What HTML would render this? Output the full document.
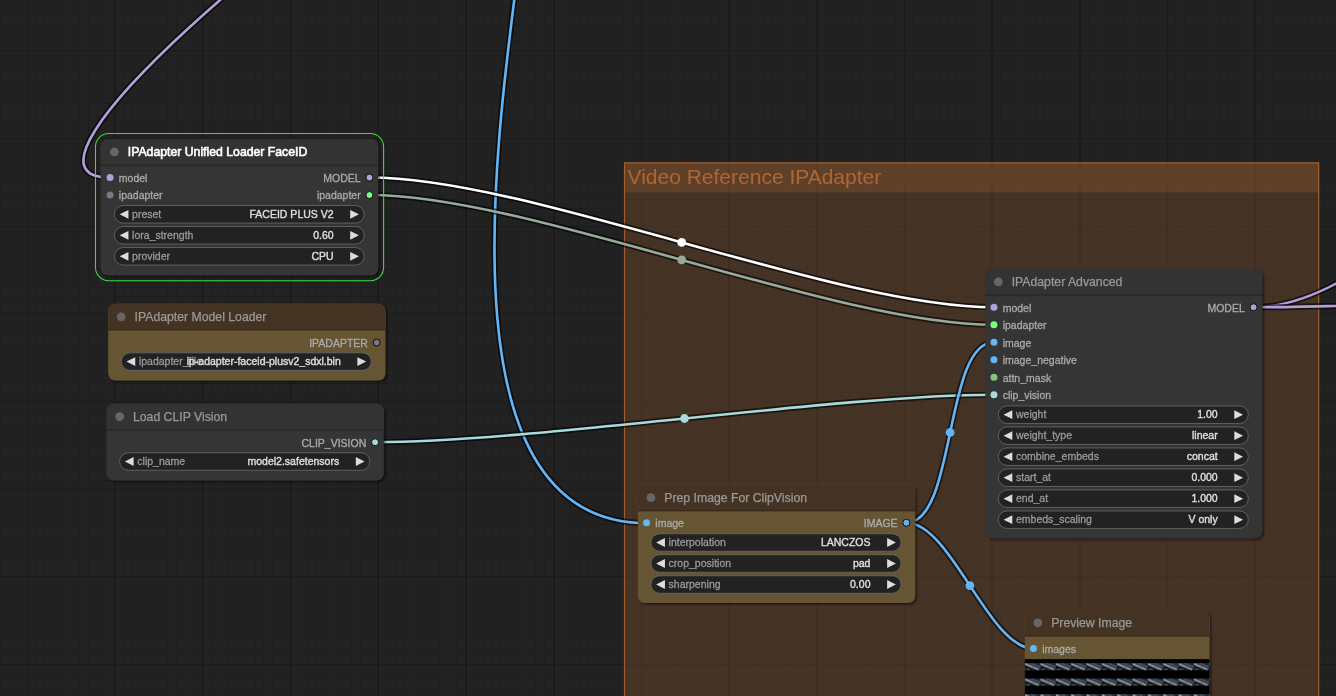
<!DOCTYPE html>
<html><head><meta charset="utf-8"><title>ComfyUI</title>
<style>html,body{margin:0;padding:0;background:#222;overflow:hidden}svg{display:block}text{font-family:"Liberation Sans",sans-serif}.sl{fill:#aaa;stroke:#aaa;stroke-width:.3px}.wl{fill:#999;stroke:#999;stroke-width:.3px}.wv{fill:#ddd;stroke:#ddd;stroke-width:.4px}</style>
</head><body>
<svg width="1336" height="696" viewBox="0 0 1336 696">
<defs>
<filter id="sh" x="-10%" y="-10%" width="120%" height="130%"><feDropShadow dx="1.75" dy="1.75" stdDeviation="1.3" flood-color="#000" flood-opacity="0.5"/></filter>
<pattern id="tile" x="1025.1" y="662.9" width="15.35" height="15.55" patternUnits="userSpaceOnUse">
<rect width="15.35" height="7.1" fill="#2b3540"/>
<path d="M0 2.6V7.1H9.5Z" fill="#0e1318"/>
<path d="M15.35 0V2.6L8 0Z" fill="#1d252d"/>
<path d="M0 0.9L13.6 6.6" stroke="#566571" stroke-width="2.4" fill="none"/>
<path d="M0 0.9L13.6 6.6" stroke="#b9c4cd" stroke-width="0.8" fill="none"/>
<path d="M6 0.5L15.35 4" stroke="#61717e" stroke-width="0.7" fill="none"/>
<path d="M0.6 6.4H4.6" stroke="#7d7748" stroke-width="0.8"/>
<circle cx="8" cy="3.8" r="0.65" fill="#a8264a"/>
</pattern>
</defs>
<g style="opacity:0.999">
<rect width="1336" height="696" fill="#222"/>
<path d="M0.5 0V696M9.5 0V696M18.5 0V696M27.5 0V696M35.5 0V696M44.5 0V696M53.5 0V696M62.5 0V696M79.5 0V696M88.5 0V696M97.5 0V696M114.5 0V696M123.5 0V696M132.5 0V696M141.5 0V696M149.5 0V696M158.5 0V696M167.5 0V696M176.5 0V696M193.5 0V696M202.5 0V696M211.5 0V696M228.5 0V696M237.5 0V696M246.5 0V696M255.5 0V696M263.5 0V696M272.5 0V696M281.5 0V696M290.5 0V696M307.5 0V696M316.5 0V696M325.5 0V696M342.5 0V696M351.5 0V696M360.5 0V696M369.5 0V696M377.5 0V696M386.5 0V696M395.5 0V696M404.5 0V696M421.5 0V696M430.5 0V696M439.5 0V696M456.5 0V696M465.5 0V696M474.5 0V696M483.5 0V696M491.5 0V696M500.5 0V696M509.5 0V696M518.5 0V696M535.5 0V696M544.5 0V696M553.5 0V696M570.5 0V696M579.5 0V696M588.5 0V696M597.5 0V696M605.5 0V696M614.5 0V696M623.5 0V696M632.5 0V696M649.5 0V696M658.5 0V696M667.5 0V696M684.5 0V696M693.5 0V696M702.5 0V696M711.5 0V696M719.5 0V696M728.5 0V696M737.5 0V696M746.5 0V696M763.5 0V696M772.5 0V696M781.5 0V696M798.5 0V696M807.5 0V696M816.5 0V696M825.5 0V696M833.5 0V696M842.5 0V696M851.5 0V696M860.5 0V696M877.5 0V696M886.5 0V696M895.5 0V696M912.5 0V696M921.5 0V696M930.5 0V696M939.5 0V696M947.5 0V696M956.5 0V696M965.5 0V696M974.5 0V696M991.5 0V696M1000.5 0V696M1009.5 0V696M1026.5 0V696M1035.5 0V696M1044.5 0V696M1053.5 0V696M1061.5 0V696M1070.5 0V696M1079.5 0V696M1088.5 0V696M1105.5 0V696M1114.5 0V696M1123.5 0V696M1140.5 0V696M1149.5 0V696M1158.5 0V696M1167.5 0V696M1175.5 0V696M1184.5 0V696M1193.5 0V696M1202.5 0V696M1219.5 0V696M1228.5 0V696M1237.5 0V696M1254.5 0V696M1263.5 0V696M1272.5 0V696M1281.5 0V696M1289.5 0V696M1298.5 0V696M1307.5 0V696M1316.5 0V696M1324.5 0V696M1333.5 0V696M0 6.5H1336M0 15.5H1336M0 24.5H1336M0 33.5H1336M0 41.5H1336M0 50.5H1336M0 59.5H1336M0 68.5H1336M0 85.5H1336M0 94.5H1336M0 103.5H1336M0 120.5H1336M0 129.5H1336M0 138.5H1336M0 147.5H1336M0 155.5H1336M0 164.5H1336M0 173.5H1336M0 182.5H1336M0 199.5H1336M0 208.5H1336M0 217.5H1336M0 234.5H1336M0 243.5H1336M0 252.5H1336M0 261.5H1336M0 269.5H1336M0 278.5H1336M0 287.5H1336M0 296.5H1336M0 313.5H1336M0 322.5H1336M0 331.5H1336M0 348.5H1336M0 357.5H1336M0 366.5H1336M0 375.5H1336M0 383.5H1336M0 392.5H1336M0 401.5H1336M0 410.5H1336M0 427.5H1336M0 436.5H1336M0 445.5H1336M0 462.5H1336M0 471.5H1336M0 480.5H1336M0 489.5H1336M0 497.5H1336M0 506.5H1336M0 515.5H1336M0 524.5H1336M0 541.5H1336M0 550.5H1336M0 559.5H1336M0 576.5H1336M0 585.5H1336M0 594.5H1336M0 603.5H1336M0 611.5H1336M0 620.5H1336M0 629.5H1336M0 638.5H1336M0 655.5H1336M0 664.5H1336M0 673.5H1336M0 690.5H1336" stroke="#1e1e1e" stroke-width="1" fill="none"/>
<path d="M27.5 0V696M114.5 0V696M115.5 0V696M202.5 0V696M203.5 0V696M290.5 0V696M291.5 0V696M377.5 0V696M378.5 0V696M465.5 0V696M466.5 0V696M553.5 0V696M554.5 0V696M641.5 0V696M728.5 0V696M729.5 0V696M816.5 0V696M817.5 0V696M904.5 0V696M991.5 0V696M992.5 0V696M1079.5 0V696M1080.5 0V696M1167.5 0V696M1254.5 0V696M1255.5 0V696M0 50.5H1336M0 138.5H1336M0 226.5H1336M0 313.5H1336M0 401.5H1336M0 489.5H1336M0 576.5H1336M0 664.5H1336" stroke="#1b1b1b" stroke-width="1" fill="none"/>
<!-- group -->
<rect x="623.9" y="162.3" width="695.1" height="30.2" fill="#b06634" fill-opacity="0.25"/>
<rect x="623.9" y="162.3" width="695.1" height="560" fill="#b06634" fill-opacity="0.25"/>
<rect x="624.5" y="162.95" width="694.2" height="560" fill="none" stroke="#b06634" stroke-opacity="0.85" stroke-width="1.2"/>
<text x="627.5" y="183.65" font-size="21" fill="#b06634">Video Reference IPAdapter</text>
<!-- links -->
<path d="M393.82 -123.98C357.14 -123.98 -18.29 177.55 110 177.55" fill="none" stroke="#000" stroke-opacity="0.6" stroke-width="6.12"/><path d="M393.82 -123.98C357.14 -123.98 -18.29 177.55 110 177.55" fill="none" stroke="#B39DDB" stroke-width="2.62"/>
<path d="M524.81 -169.58C566.98 -169.58 366.51 523.25 647.15 523.25" fill="none" stroke="#000" stroke-opacity="0.6" stroke-width="6.12"/><path d="M524.81 -169.58C566.98 -169.58 366.51 523.25 647.15 523.25" fill="none" stroke="#64B5F6" stroke-width="2.62"/>
<path d="M369.45 195.05C528.91 195.05 834.49 324.75 993.95 324.75" fill="none" stroke="#000" stroke-opacity="0.6" stroke-width="6.12"/><path d="M369.45 195.05C528.91 195.05 834.49 324.75 993.95 324.75" fill="none" stroke="#9A9" stroke-width="2.62"/><circle cx="681.7" cy="259.9" r="4.38" fill="#9A9"/>
<path d="M369.45 177.55C528.91 177.55 834.49 307.25 993.95 307.25" fill="none" stroke="#000" stroke-opacity="0.6" stroke-width="6.12"/><path d="M369.45 177.55C528.91 177.55 834.49 307.25 993.95 307.25" fill="none" stroke="#fff" stroke-width="2.62"/><circle cx="681.7" cy="242.4" r="4.38" fill="#fff"/>
<path d="M375.05 442.25C530.23 442.25 838.77 394.75 993.95 394.75" fill="none" stroke="#000" stroke-opacity="0.6" stroke-width="6.12"/><path d="M375.05 442.25C530.23 442.25 838.77 394.75 993.95 394.75" fill="none" stroke="#A8DADC" stroke-width="2.62"/><circle cx="684.5" cy="418.5" r="4.38" fill="#A8DADC"/>
<path d="M906.35 522.75C956.51 522.75 943.79 342.25 993.95 342.25" fill="none" stroke="#000" stroke-opacity="0.6" stroke-width="6.12"/><path d="M906.35 522.75C956.51 522.75 943.79 342.25 993.95 342.25" fill="none" stroke="#64B5F6" stroke-width="2.62"/><circle cx="950.15" cy="432.5" r="4.38" fill="#64B5F6"/>
<path d="M906.35 522.75C951.04 522.75 988.76 648.45 1033.45 648.45" fill="none" stroke="#000" stroke-opacity="0.6" stroke-width="6.12"/><path d="M906.35 522.75C951.04 522.75 988.76 648.45 1033.45 648.45" fill="none" stroke="#64B5F6" stroke-width="2.62"/><circle cx="969.9" cy="585.6" r="4.38" fill="#64B5F6"/>
<path d="M1253.55 307.25C1456.48 307.25 1699.36 -180.65 1902.29 -180.65" fill="none" stroke="#000" stroke-opacity="0.6" stroke-width="6.12"/><path d="M1253.55 307.25C1456.48 307.25 1699.36 -180.65 1902.29 -180.65" fill="none" stroke="#B39DDB" stroke-width="2.62"/>
<path d="M1253.55 307.25C1584.13 307.25 2242.96 228.8 2573.54 228.8" fill="none" stroke="#000" stroke-opacity="0.6" stroke-width="6.12"/><path d="M1253.55 307.25C1584.13 307.25 2242.96 228.8 2573.54 228.8" fill="none" stroke="#B39DDB" stroke-width="2.62"/>
<!-- nodes -->
<g filter="url(#sh)"><rect x="108.2" y="303.85" width="277.2" height="76.75" rx="7" fill="#653"/></g>
<path d="M108.2 330.1V310.85a7 7 0 0 1 7 -7H378.4a7 7 0 0 1 7 7V330.1Z" fill="#432"/>
<rect x="108.2" y="329.23" width="277.2" height="1.75" fill="#000" fill-opacity="0.2"/>
<circle cx="121.23" cy="316.78" r="4.38" fill="#666"/>
<text x="134.55" y="321.05" font-size="12.25" fill="#999" stroke="#999" stroke-width="0.25">IPAdapter Model Loader</text>
<circle cx="376.65" cy="342.55" r="3.5" fill="#778" stroke="#000" stroke-width="0.88"/>
<text x="367.9" y="346.93" font-size="10.5" class="sl" text-anchor="end">IPADAPTER</text>
<rect x="121.23" y="352.85" width="250.17" height="17.5" rx="8.75" fill="#222" stroke="#666" stroke-width="0.88"/>
<path d="M135.23 357.23L126.48 361.6L135.23 365.98Z" fill="#ddd"/>
<path d="M357.4 357.23L366.15 361.6L357.4 365.98Z" fill="#ddd"/>
<text x="138.93" y="365.1" font-size="10.5" class="wl">ipadapter_file</text>
<text x="340.77" y="365.1" font-size="10.5" class="wv" text-anchor="end">ip-adapter-faceid-plusv2_sdxl.bin</text>

<g filter="url(#sh)"><rect x="106.6" y="403.75" width="277.2" height="76.65" rx="7" fill="#353535"/></g>
<path d="M106.6 430V410.75a7 7 0 0 1 7 -7H376.8a7 7 0 0 1 7 7V430Z" fill="#333"/>
<rect x="106.6" y="429.12" width="277.2" height="1.75" fill="#000" fill-opacity="0.2"/>
<circle cx="119.62" cy="416.68" r="4.38" fill="#666"/>
<text x="132.95" y="420.95" font-size="12.25" fill="#999" stroke="#999" stroke-width="0.25">Load CLIP Vision</text>
<circle cx="375.05" cy="442.25" r="3.5" fill="#A8DADC" stroke="#000" stroke-width="0.88"/>
<text x="366.3" y="446.62" font-size="10.5" class="sl" text-anchor="end">CLIP_VISION</text>
<rect x="119.62" y="452.75" width="250.17" height="17.5" rx="8.75" fill="#222" stroke="#666" stroke-width="0.88"/>
<path d="M133.62 457.12L124.88 461.5L133.62 465.88Z" fill="#ddd"/>
<path d="M355.8 457.12L364.55 461.5L355.8 465.88Z" fill="#ddd"/>
<text x="137.32" y="465" font-size="10.5" class="wl">clip_name</text>
<text x="339.17" y="465" font-size="10.5" class="wv" text-anchor="end">model2.safetensors</text>

<g filter="url(#sh)"><rect x="985.3" y="268.95" width="277" height="269.35" rx="7" fill="#353535"/></g>
<path d="M985.3 295.2V275.95a7 7 0 0 1 7 -7H1255.3a7 7 0 0 1 7 7V295.2Z" fill="#333"/>
<rect x="985.3" y="294.32" width="277" height="1.75" fill="#000" fill-opacity="0.2"/>
<circle cx="998.32" cy="281.88" r="4.38" fill="#666"/>
<text x="1011.65" y="286.15" font-size="12.25" fill="#999" stroke="#999" stroke-width="0.25">IPAdapter Advanced</text>
<circle cx="993.95" cy="307.25" r="3.5" fill="#B39DDB"/>
<text x="1002.7" y="311.62" font-size="10.5" class="sl">model</text>
<circle cx="993.95" cy="324.75" r="3.5" fill="#7F7"/>
<text x="1002.7" y="329.12" font-size="10.5" class="sl">ipadapter</text>
<circle cx="993.95" cy="342.25" r="3.5" fill="#64B5F6"/>
<text x="1002.7" y="346.62" font-size="10.5" class="sl">image</text>
<circle cx="993.95" cy="359.75" r="3.5" fill="#64B5F6"/>
<text x="1002.7" y="364.12" font-size="10.5" class="sl">image_negative</text>
<circle cx="993.95" cy="377.25" r="3.5" fill="#81C784"/>
<text x="1002.7" y="381.62" font-size="10.5" class="sl">attn_mask</text>
<circle cx="993.95" cy="394.75" r="3.5" fill="#A8DADC"/>
<text x="1002.7" y="399.12" font-size="10.5" class="sl">clip_vision</text>
<circle cx="1253.55" cy="307.25" r="3.5" fill="#B39DDB" stroke="#000" stroke-width="0.88"/>
<text x="1244.8" y="311.62" font-size="10.5" class="sl" text-anchor="end">MODEL</text>
<rect x="998.32" y="405.95" width="249.98" height="17.5" rx="8.75" fill="#222" stroke="#666" stroke-width="0.88"/>
<path d="M1012.32 410.32L1003.57 414.7L1012.32 419.07Z" fill="#ddd"/>
<path d="M1234.3 410.32L1243.05 414.7L1234.3 419.07Z" fill="#ddd"/>
<text x="1016.02" y="418.2" font-size="10.5" class="wl">weight</text>
<text x="1217.67" y="418.2" font-size="10.5" class="wv" text-anchor="end">1.00</text>
<rect x="998.32" y="426.95" width="249.98" height="17.5" rx="8.75" fill="#222" stroke="#666" stroke-width="0.88"/>
<path d="M1012.32 431.32L1003.57 435.7L1012.32 440.07Z" fill="#ddd"/>
<path d="M1234.3 431.32L1243.05 435.7L1234.3 440.07Z" fill="#ddd"/>
<text x="1016.02" y="439.2" font-size="10.5" class="wl">weight_type</text>
<text x="1217.67" y="439.2" font-size="10.5" class="wv" text-anchor="end">linear</text>
<rect x="998.32" y="447.95" width="249.98" height="17.5" rx="8.75" fill="#222" stroke="#666" stroke-width="0.88"/>
<path d="M1012.32 452.32L1003.57 456.7L1012.32 461.07Z" fill="#ddd"/>
<path d="M1234.3 452.32L1243.05 456.7L1234.3 461.07Z" fill="#ddd"/>
<text x="1016.02" y="460.2" font-size="10.5" class="wl">combine_embeds</text>
<text x="1217.67" y="460.2" font-size="10.5" class="wv" text-anchor="end">concat</text>
<rect x="998.32" y="468.95" width="249.98" height="17.5" rx="8.75" fill="#222" stroke="#666" stroke-width="0.88"/>
<path d="M1012.32 473.32L1003.57 477.7L1012.32 482.07Z" fill="#ddd"/>
<path d="M1234.3 473.32L1243.05 477.7L1234.3 482.07Z" fill="#ddd"/>
<text x="1016.02" y="481.2" font-size="10.5" class="wl">start_at</text>
<text x="1217.67" y="481.2" font-size="10.5" class="wv" text-anchor="end">0.000</text>
<rect x="998.32" y="489.95" width="249.98" height="17.5" rx="8.75" fill="#222" stroke="#666" stroke-width="0.88"/>
<path d="M1012.32 494.32L1003.57 498.7L1012.32 503.07Z" fill="#ddd"/>
<path d="M1234.3 494.32L1243.05 498.7L1234.3 503.07Z" fill="#ddd"/>
<text x="1016.02" y="502.2" font-size="10.5" class="wl">end_at</text>
<text x="1217.67" y="502.2" font-size="10.5" class="wv" text-anchor="end">1.000</text>
<rect x="998.32" y="510.95" width="249.98" height="17.5" rx="8.75" fill="#222" stroke="#666" stroke-width="0.88"/>
<path d="M1012.32 515.33L1003.57 519.7L1012.32 524.08Z" fill="#ddd"/>
<path d="M1234.3 515.33L1243.05 519.7L1234.3 524.08Z" fill="#ddd"/>
<text x="1016.02" y="523.2" font-size="10.5" class="wl">embeds_scaling</text>
<text x="1217.67" y="523.2" font-size="10.5" class="wv" text-anchor="end">V only</text>

<g filter="url(#sh)"><rect x="637.9" y="484.75" width="277.2" height="118.35" rx="7" fill="#653"/></g>
<path d="M637.9 511V491.75a7 7 0 0 1 7 -7H908.1a7 7 0 0 1 7 7V511Z" fill="#432"/>
<rect x="637.9" y="510.12" width="277.2" height="1.75" fill="#000" fill-opacity="0.2"/>
<circle cx="650.92" cy="497.68" r="4.38" fill="#666"/>
<text x="664.25" y="501.95" font-size="12.25" fill="#999" stroke="#999" stroke-width="0.25">Prep Image For ClipVision</text>
<circle cx="646.55" cy="522.75" r="3.5" fill="#64B5F6"/>
<text x="655.3" y="527.12" font-size="10.5" class="sl">image</text>
<circle cx="906.35" cy="522.75" r="3.5" fill="#64B5F6" stroke="#000" stroke-width="0.88"/>
<text x="897.6" y="527.12" font-size="10.5" class="sl" text-anchor="end">IMAGE</text>
<rect x="650.92" y="533.75" width="250.17" height="17.5" rx="8.75" fill="#222" stroke="#666" stroke-width="0.88"/>
<path d="M664.92 538.12L656.17 542.5L664.92 546.88Z" fill="#ddd"/>
<path d="M887.1 538.12L895.85 542.5L887.1 546.88Z" fill="#ddd"/>
<text x="668.62" y="546" font-size="10.5" class="wl">interpolation</text>
<text x="870.47" y="546" font-size="10.5" class="wv" text-anchor="end">LANCZOS</text>
<rect x="650.92" y="554.75" width="250.17" height="17.5" rx="8.75" fill="#222" stroke="#666" stroke-width="0.88"/>
<path d="M664.92 559.12L656.17 563.5L664.92 567.88Z" fill="#ddd"/>
<path d="M887.1 559.12L895.85 563.5L887.1 567.88Z" fill="#ddd"/>
<text x="668.62" y="567" font-size="10.5" class="wl">crop_position</text>
<text x="870.47" y="567" font-size="10.5" class="wv" text-anchor="end">pad</text>
<rect x="650.92" y="575.75" width="250.17" height="17.5" rx="8.75" fill="#222" stroke="#666" stroke-width="0.88"/>
<path d="M664.92 580.12L656.17 584.5L664.92 588.88Z" fill="#ddd"/>
<path d="M887.1 580.12L895.85 584.5L887.1 588.88Z" fill="#ddd"/>
<text x="668.62" y="588" font-size="10.5" class="wl">sharpening</text>
<text x="870.47" y="588" font-size="10.5" class="wv" text-anchor="end">0.00</text>

<g filter="url(#sh)"><rect x="1024.8" y="609.95" width="184.8" height="146.25" rx="7" fill="#653"/></g>
<path d="M1024.8 636.2V616.95a7 7 0 0 1 7 -7H1202.6a7 7 0 0 1 7 7V636.2Z" fill="#432"/>
<rect x="1024.8" y="635.33" width="184.8" height="1.75" fill="#000" fill-opacity="0.2"/>
<circle cx="1037.83" cy="622.88" r="4.38" fill="#666"/>
<text x="1051.15" y="627.15" font-size="12.25" fill="#999" stroke="#999" stroke-width="0.25">Preview Image</text>
<circle cx="1033.45" cy="648.45" r="3.5" fill="#64B5F6"/>
<text x="1042.2" y="652.83" font-size="10.5" class="sl">images</text>
<rect x="1024.8" y="659.1" width="184.8" height="40" fill="#000"/><rect x="1024.8" y="662.9" width="184.8" height="40" fill="url(#tile)"/>
<g filter="url(#sh)"><rect x="100.7" y="139.05" width="277.5" height="136.25" rx="7" fill="#353535"/></g>
<path d="M100.7 165.3V146.05a7 7 0 0 1 7 -7H371.2a7 7 0 0 1 7 7V165.3Z" fill="#333"/>
<rect x="100.7" y="164.43" width="277.5" height="1.75" fill="#000" fill-opacity="0.2"/>
<circle cx="114.42" cy="151.98" r="4.38" fill="#666"/>
<text x="127.75" y="155.65" font-size="12.25" fill="#fff" stroke="#fff" stroke-width="0.6">IPAdapter Unified Loader FaceID</text>
<circle cx="110.05" cy="177.55" r="3.5" fill="#B39DDB"/>
<text x="118.8" y="181.93" font-size="10.5" class="sl">model</text>
<circle cx="110.05" cy="195.05" r="3.5" fill="#778"/>
<text x="118.8" y="199.43" font-size="10.5" class="sl">ipadapter</text>
<circle cx="369.45" cy="177.55" r="3.5" fill="#B39DDB" stroke="#000" stroke-width="0.88"/>
<text x="360.7" y="181.93" font-size="10.5" class="sl" text-anchor="end">MODEL</text>
<circle cx="369.45" cy="195.05" r="3.5" fill="#7F7" stroke="#000" stroke-width="0.88"/>
<text x="360.7" y="199.43" font-size="10.5" class="sl" text-anchor="end">ipadapter</text>
<rect x="114.42" y="205.55" width="249.77" height="17.5" rx="8.75" fill="#222" stroke="#666" stroke-width="0.88"/>
<path d="M128.43 209.93L119.67 214.3L128.43 218.68Z" fill="#ddd"/>
<path d="M350.2 209.93L358.95 214.3L350.2 218.68Z" fill="#ddd"/>
<text x="132.12" y="217.8" font-size="10.5" class="wl">preset</text>
<text x="333.57" y="217.8" font-size="10.5" class="wv" text-anchor="end">FACEID PLUS V2</text>
<rect x="114.42" y="226.55" width="249.77" height="17.5" rx="8.75" fill="#222" stroke="#666" stroke-width="0.88"/>
<path d="M128.43 230.93L119.67 235.3L128.43 239.68Z" fill="#ddd"/>
<path d="M350.2 230.93L358.95 235.3L350.2 239.68Z" fill="#ddd"/>
<text x="132.12" y="238.8" font-size="10.5" class="wl">lora_strength</text>
<text x="333.57" y="238.8" font-size="10.5" class="wv" text-anchor="end">0.60</text>
<rect x="114.42" y="247.55" width="249.77" height="17.5" rx="8.75" fill="#222" stroke="#666" stroke-width="0.88"/>
<path d="M128.43 251.93L119.67 256.3L128.43 260.68Z" fill="#ddd"/>
<path d="M350.2 251.93L358.95 256.3L350.2 260.68Z" fill="#ddd"/>
<text x="132.12" y="259.8" font-size="10.5" class="wl">provider</text>
<text x="333.57" y="259.8" font-size="10.5" class="wv" text-anchor="end">CPU</text>

<rect x="95.5" y="133.5" width="288.1" height="147.3" rx="13.2" fill="none" stroke="#3fdb3f" stroke-width="1.05"/>
</g>
</svg>
</body></html>
